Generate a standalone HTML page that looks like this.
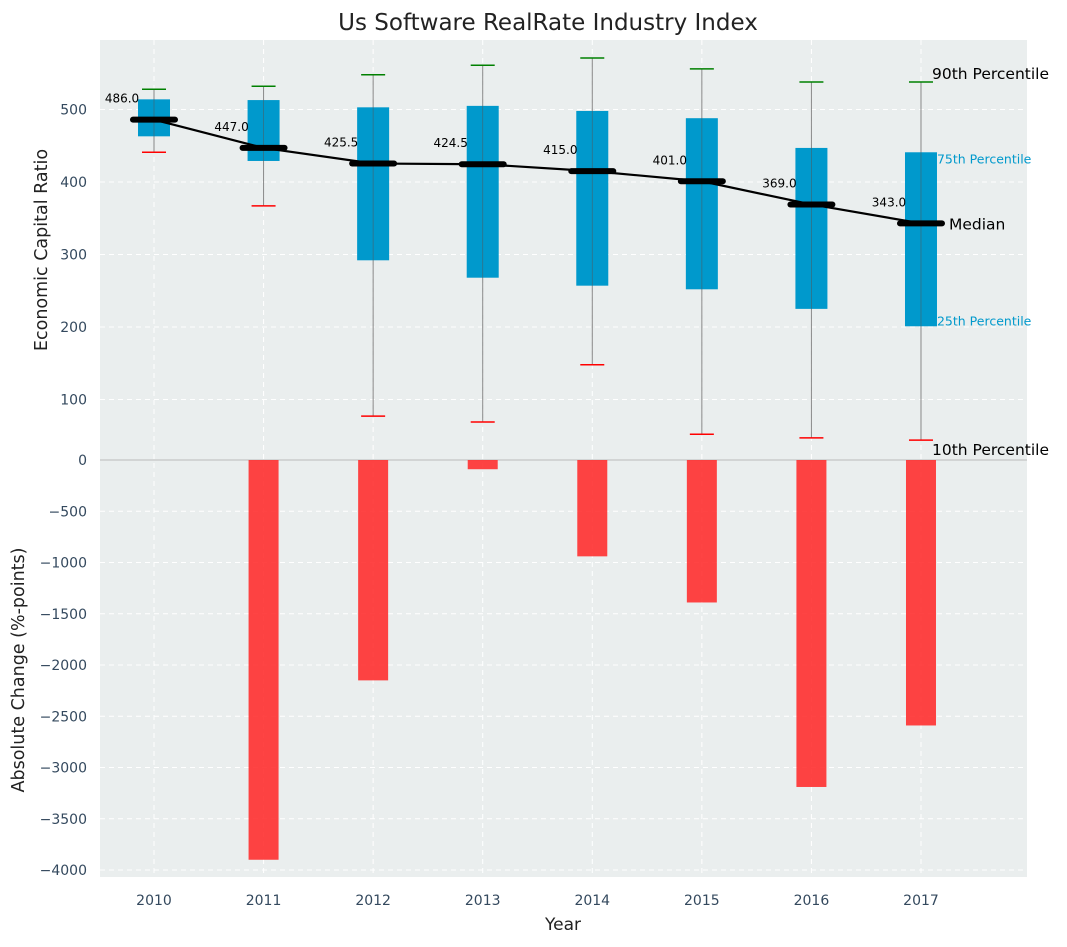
<!DOCTYPE html>
<html><head><meta charset="utf-8"><style>
body{margin:0;background:#fff}
svg text{font-family:"DejaVu Sans","Liberation Sans",sans-serif}
</style></head><body>
<svg id="c" width="1067" height="942" xmlns="http://www.w3.org/2000/svg"></svg>
<script>
const years=[2010,2011,2012,2013,2014,2015,2016,2017];
const medians=[486,447,425.5,424.5,415,401,369,343];
const q1=[463,429,292,268,257,252,225,201];
const q3=[514,513,503,505,498,488,447,441];
const p90=[528,532,548,561,571,556,538,538];
const p10=[441,367,77,69,148,52,47,44];
const changes=[0,-3900,-2150,-90,-940,-1390,-3190,-2590];
const topTicks=[100,200,300,400,500];
const botTicks=[0,-500,-1000,-1500,-2000,-2500,-3000,-3500,-4000];

const NS="http://www.w3.org/2000/svg";
const svg=document.getElementById('c');
function el(t,a,p){const e=document.createElementNS(NS,t);for(const k in a)e.setAttribute(k,a[k]);(p||svg).appendChild(e);return e;}
const L=100,R=1027,T=40,M=460,B=877;
const TC='#34495e';
const xs=y=>154+(y-2010)*109.57;
const yt=v=>472-v*0.725;
const yb=v=>460-v*0.1025;

let bg=el('rect',{x:L,y:T,width:R-L,height:B-T,fill:'#eaeeee'});

topTicks.forEach(v=>{let g=el('line',{x1:L,x2:R,y1:yt(v),y2:yt(v),stroke:'#fff','stroke-dasharray':'5,4','stroke-width':1});

let t=el('text',{x:L-13,y:yt(v)+5,'text-anchor':'end','font-size':14,fill:TC});t.textContent=v;
});
botTicks.forEach(v=>{let g=el('line',{x1:L,x2:R,y1:yb(v),y2:yb(v),stroke:'#fff','stroke-dasharray':'5,4','stroke-width':1});

let t=el('text',{x:L-13,y:yb(v)+5,'text-anchor':'end','font-size':14,fill:TC});t.textContent=String(v).replace('-','\u2212');
});
years.forEach(y=>{let g=el('line',{x1:xs(y),x2:xs(y),y1:T,y2:B,stroke:'#fff','stroke-dasharray':'5,4','stroke-width':1});

let t=el('text',{x:xs(y),y:905,'text-anchor':'middle','font-size':14,fill:TC});t.textContent=y;
});
let zl=el('line',{x1:L,x2:R,y1:M,y2:M,stroke:'#bbb','stroke-width':1});


years.forEach((y,i)=>{const v=changes[i];const y0=yb(0),y1=yb(v);
let r=el('rect',{x:xs(y)-15,y:Math.min(y0,y1),width:30,height:Math.abs(y1-y0),fill:'#ff2a2a','fill-opacity':0.88});
});

years.forEach((y,i)=>{const x=xs(y);
let w=el('line',{x1:x,x2:x,y1:yt(p90[i]),y2:yt(p10[i]),stroke:'#888','stroke-width':1});

let b=el('rect',{x:x-16,y:yt(q3[i]),width:32,height:yt(q1[i])-yt(q3[i]),fill:'#0099cc'});

let w2=el('line',{x1:x,x2:x,y1:yt(q3[i]),y2:yt(q1[i]),stroke:'#555','stroke-width':0.8,'stroke-opacity':0.6});

let c1=el('line',{x1:x-12,x2:x+12,y1:yt(p90[i]),y2:yt(p90[i]),stroke:'green','stroke-width':1.5});

let c2=el('line',{x1:x-12,x2:x+12,y1:yt(p10[i]),y2:yt(p10[i]),stroke:'red','stroke-width':1.5});

});
let pts=years.map((y,i)=>xs(y)+','+yt(medians[i])).join(' ');
let ml=el('polyline',{points:pts,fill:'none',stroke:'#000','stroke-width':2.2});

years.forEach((y,i)=>{const x=xs(y);
let m=el('line',{x1:x-21,x2:x+21,y1:yt(medians[i]),y2:yt(medians[i]),stroke:'#000','stroke-width':6,'stroke-linecap':'round'});

let t=el('text',{x:x-32,y:yt(medians[i])-17,'text-anchor':'middle','font-size':12,fill:'#000'});t.textContent=medians[i].toFixed(1);
});

const xl=xs(2017);
[[ '90th Percentile',xl+11,yt(p90[7])-3,15.5,'#000'],['75th Percentile',xl+16,yt(q3[7])+11,12.5,'#0099cc'],['Median',xl+28,yt(medians[7])+6,15.5,'#000'],['25th Percentile',xl+16,yt(q1[7])-1,12.5,'#0099cc'],['10th Percentile',xl+11,yt(p10[7])+15,15.5,'#000']].forEach(a=>{
let t=el('text',{x:a[1],y:a[2],'font-size':a[3],fill:a[4]});t.textContent=a[0];
});

let ti=el('text',{x:548,y:30,'text-anchor':'middle','font-size':23,fill:'#222'});ti.textContent='Us Software RealRate Industry Index';

let xt=el('text',{x:563,y:930,'text-anchor':'middle','font-size':17,fill:'#222'});xt.textContent='Year';

let y1t=el('text',{x:47,y:250,'text-anchor':'middle','font-size':17.5,fill:'#222',transform:'rotate(-90 47 250)'});y1t.textContent='Economic Capital Ratio';

let y2t=el('text',{x:24,y:670,'text-anchor':'middle','font-size':17.5,fill:'#222',transform:'rotate(-90 24 670)'});y2t.textContent='Absolute Change (%-points)';

</script>
</body></html>
